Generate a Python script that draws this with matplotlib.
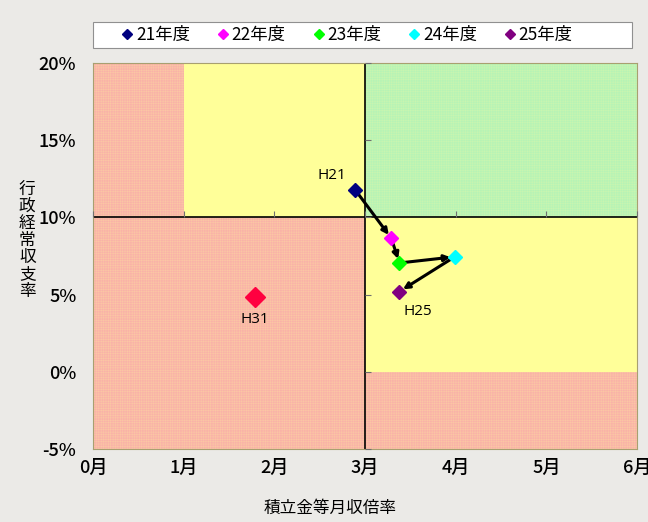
import matplotlib.pyplot as plt
from matplotlib.patches import Rectangle

plt.rcParams['font.family'] = ['Noto Sans CJK JP', 'DejaVu Sans']
plt.rcParams['hatch.linewidth'] = 0.4

# yearly points (months of reserves, current balance ratio %)
years = ['21年度', '22年度', '23年度', '24年度', '25年度']
labels = ['H21', '', '', '', 'H25']
reserve_months = [2.89, 3.29, 3.38, 3.99, 3.38]
balance_ratio = [11.8, 8.65, 7.05, 7.45, 5.2]
colors = ['#000080', '#ff00ff', '#00ff00', '#00ffff', '#800080']

# target point
target_label = 'H31'
target_x = 1.79
target_y = 4.85

# background zones: (x0, x1, y0, y1, kind)
zones = [
    (0, 1, 10, 20, 'bad'),
    (1, 3, 10, 20, 'mid'),
    (0, 3, -5, 10, 'bad'),
    (3, 6, 10, 20, 'good'),
    (3, 6, 0, 10, 'mid'),
    (3, 6, -5, 0, 'bad'),
]
zone_colors = {'bad': '#f9b2a8', 'mid': '#ffff99', 'good': '#b6f3b6'}
zone_hatch = {'bad': ('+' * 7, '#fbc6a4'), 'mid': (None, 'none'),
              'good': ('+' * 7, '#c8f5b0')}

x_ticks = [0, 1, 2, 3, 4, 5, 6]
y_ticks = [-5, 0, 5, 10, 15, 20]

bg = '#ebeae7'
fig = plt.figure(figsize=(6.48, 5.22), dpi=100, facecolor=bg)
ax = fig.add_axes([0.1435, 0.1398, 0.8395, 0.7395])
ax.set_xlim(0, 6)
ax.set_ylim(-5, 20)

for x0, x1, y0, y1, kind in zones:
    hatch, hcol = zone_hatch[kind]
    ax.add_patch(Rectangle((x0, y0), x1 - x0, y1 - y0, facecolor=zone_colors[kind],
                           edgecolor=hcol, hatch=hatch, lw=0, zorder=0))

ax.axhline(10, color='black', lw=1.2, zorder=2)
ax.axvline(3, color='black', lw=1.2, zorder=2)

for s in ax.spines.values():
    s.set_color('#a8a070')
    s.set_linewidth(0.8)

ax.set_xticks(x_ticks)
ax.set_xticklabels([f'{m}月' for m in x_ticks])
ax.set_yticks(y_ticks)
ax.set_yticklabels([f'{v}%' for v in y_ticks])
ax.tick_params(length=0, labelsize=13, pad=12)
ax.tick_params(axis='x', pad=7)
for t in ax.get_xticklabels() + ax.get_yticklabels():
    t.set_fontweight('medium')

# small tick marks along the crossing lines
ax2 = fig.add_axes(ax.get_position(), sharex=ax, sharey=ax, frameon=False)
ax2.patch.set_visible(False)
ax2.spines['bottom'].set_position(('data', 10))
ax2.spines['left'].set_position(('data', 3))
ax2.tick_params(direction='in', length=4, color='#707070', labelbottom=False,
                labelleft=False)

# arrows between successive years
for i in range(len(years) - 1):
    ax.annotate('', xy=(reserve_months[i + 1], balance_ratio[i + 1]),
                xytext=(reserve_months[i], balance_ratio[i]),
                arrowprops=dict(arrowstyle='-|>', color='black', lw=2.2,
                                mutation_scale=9, shrinkA=2, shrinkB=3),
                zorder=3)

for i in range(len(years)):
    ax.plot(reserve_months[i], balance_ratio[i], 'D', color=colors[i], ms=7,
            label=years[i], zorder=4, linestyle='none')
    if labels[i] == 'H21':
        ax.text(reserve_months[i] - 0.1, balance_ratio[i] + 0.45, labels[i],
                ha='right', va='bottom', fontsize=11, family=['Open Sans'])
    elif labels[i]:
        ax.text(reserve_months[i] + 0.2, balance_ratio[i] - 0.8, labels[i],
                ha='center', va='top', fontsize=11, family=['Open Sans'])

ax.plot(target_x, target_y, 'D', color='#ff0040', ms=10, zorder=4)
ax.text(target_x, target_y - 0.95, target_label, ha='center', va='top',
        fontsize=11, family=['Open Sans'])

# legend box across the top, entries centred inside it
fig.patches.append(Rectangle((93 / 648, 1 - 48 / 522), 539 / 648, 26 / 522,
                             transform=fig.transFigure, facecolor='white',
                             edgecolor='#909090', lw=0.8, zorder=5))
leg = fig.legend(loc='center', bbox_to_anchor=(346 / 648, 1 - 35 / 522),
                 ncol=5, fontsize=12.5, frameon=False,
                 handletextpad=0.05, handlelength=0.9, columnspacing=1.45,
                 markerscale=0.75, borderpad=0, borderaxespad=0)
leg.set_zorder(6)

fig.text(0.042, 0.54, '行\n政\n経\n常\n収\n支\n率', ha='center', va='center',
         fontsize=12, linespacing=1.0)
fig.text(0.51, 0.027, '積立金等月収倍率', ha='center', va='center', fontsize=12)

fig.savefig('out.png', dpi=100, facecolor=bg)
